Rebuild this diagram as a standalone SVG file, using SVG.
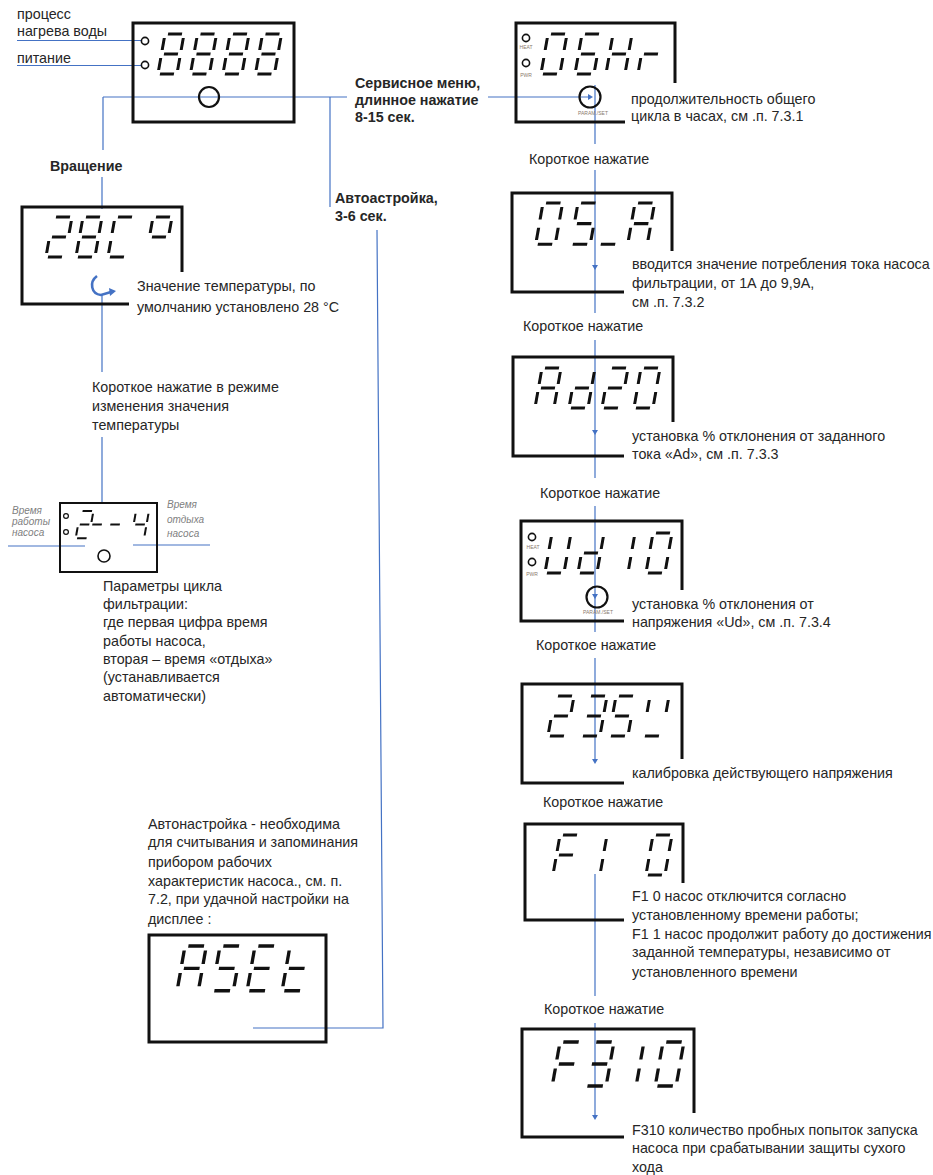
<svg xmlns="http://www.w3.org/2000/svg" width="933" height="1175" viewBox="0 0 933 1175">
<style>
.box{fill:none;stroke:#111;stroke-width:3}
.seg{fill:none;stroke:#111;stroke-width:3}
.led{fill:none;stroke:#111;stroke-width:1.6}
.btn{fill:none;stroke:#111;stroke-width:2.2}
.t{font-family:"Liberation Sans",Arial,sans-serif;font-size:14.3px;fill:#262626}
.b{font-weight:bold}
.it{font-family:"Liberation Sans",Arial,sans-serif;font-style:italic;font-size:10px;fill:#808080}
.tiny{font-family:"Liberation Sans",Arial,sans-serif;font-size:5px;fill:#8a7a6e}
.con{fill:none;stroke:#4472C4;stroke-width:1.2}
.ah{fill:#4472C4}
</style>
<defs>
<path id="sa" d="M3,0H17"/>
<path id="sb" d="M19,4V16"/>
<path id="sc" d="M19,24V36"/>
<path id="sd" d="M2,40H16"/>
<path id="se" d="M0,24V36"/>
<path id="sf" d="M0,4V16"/>
<path id="sg" d="M2.5,20H16.5"/>
<g id="g8"><use href="#sa"/><use href="#sb"/><use href="#sc"/><use href="#sd"/><use href="#se"/><use href="#sf"/><use href="#sg"/></g>
<g id="g0"><use href="#sa"/><use href="#sb"/><use href="#sc"/><use href="#sd"/><use href="#se"/><use href="#sf"/></g>
<g id="g6"><use href="#sa"/><use href="#sc"/><use href="#sd"/><use href="#se"/><use href="#sf"/><use href="#sg"/></g>
<g id="gH"><use href="#sb"/><use href="#sc"/><use href="#se"/><use href="#sf"/><use href="#sg"/></g>
<g id="gr"><use href="#se"/><use href="#sg"/></g>
<g id="g5"><use href="#sa"/><use href="#sc"/><use href="#sd"/><use href="#sf"/><use href="#sg"/></g>
<g id="gA"><use href="#sa"/><use href="#sb"/><use href="#sc"/><use href="#se"/><use href="#sf"/><use href="#sg"/></g>
<g id="gd"><use href="#sb"/><use href="#sc"/><use href="#sd"/><use href="#se"/><use href="#sg"/></g>
<g id="g2"><use href="#sa"/><use href="#sb"/><use href="#sd"/><use href="#se"/><use href="#sg"/></g>
<g id="gU"><use href="#sb"/><use href="#sc"/><use href="#sd"/><use href="#se"/><use href="#sf"/></g>
<g id="g1"><use href="#sb"/><use href="#sc"/></g>
<g id="g3"><use href="#sa"/><use href="#sb"/><use href="#sc"/><use href="#sd"/><use href="#sg"/></g>
<g id="gF"><use href="#sa"/><use href="#se"/><use href="#sf"/><use href="#sg"/></g>
<g id="gt"><use href="#sd"/><use href="#se"/><use href="#sf"/><use href="#sg"/></g>
<g id="gE"><use href="#sa"/><use href="#sd"/><use href="#se"/><use href="#sf"/><use href="#sg"/></g>
<g id="gC"><use href="#sa"/><use href="#sd"/><use href="#se"/><use href="#sf"/></g>
<g id="gdeg"><use href="#sa"/><use href="#sb"/><use href="#sf"/><use href="#sg"/></g>
<g id="g4"><use href="#sb"/><use href="#sc"/><use href="#sf"/><use href="#sg"/></g>
<g id="gm"><use href="#sg"/></g>
<g id="gu"><use href="#sd"/></g>
<g id="gv"><use href="#sb"/><use href="#sd"/><use href="#sf"/></g>
<path id="ahd" d="M-3,-5L3,-5L0,0Z"/>
</defs>

<g id="connectors">
<path class="con" d="M17,40.5H141"/>
<path class="con" d="M17,65.5H141"/>
<path class="con" d="M103,97H347"/>
<path class="con" d="M488,97H589"/>
<use href="#ahd" class="ah" transform="translate(593 97) rotate(-90)"/>
<path class="con" d="M103,97V150"/>
<path class="con" d="M102,177V209"/>
<path d="M97,276C89,282 91,294 101,295L111,292" fill="none" stroke="#4472C4" stroke-width="2.6"/>
<path d="M109,288L116,291L110,296Z" fill="#4472C4"/>
<path class="con" d="M102,295V372"/>
<path class="con" d="M102,437V503"/>
<path class="con" d="M330,97V207"/>
<path class="con" d="M377,230L383,1028H253"/>
<path class="con" d="M595,85V144"/>
<path class="con" d="M595,170V313"/>
<use href="#ahd" class="ah" transform="translate(595 270)"/>
<path class="con" d="M595,340V478"/>
<use href="#ahd" class="ah" transform="translate(595 435)"/>
<path class="con" d="M595,506V632"/>
<use href="#ahd" class="ah" transform="translate(595 599)"/>
<path class="con" d="M595,658V760"/>
<use href="#ahd" class="ah" transform="translate(595 764)"/>
<path class="con" d="M595,874V996"/>
<path class="con" d="M595,1023V1116"/>
<use href="#ahd" class="ah" transform="translate(595 1120)"/>
<path class="con" d="M8,546H85"/>
<path class="con" d="M133,545H210"/>
</g>

<g id="display-main">
<rect class="box" x="133" y="23" width="161" height="99"/>
<circle class="led" cx="145" cy="41" r="3.6"/>
<circle class="led" cx="145" cy="65" r="3.6"/>
<circle class="btn" cx="209" cy="97" r="10"/>
<g class="seg">
<use href="#g8" transform="translate(165 34) skewX(-10)"/>
<use href="#g8" transform="translate(197.5 34) skewX(-10)"/>
<use href="#g8" transform="translate(230 34) skewX(-10)"/>
<use href="#g8" transform="translate(262.5 34) skewX(-10)"/>
</g>
<text class="t" x="17" y="19">процесс</text>
<text class="t" x="17" y="36">нагрева воды</text>
<text class="t" x="17" y="63">питание</text>
</g>

<g id="label-service">
<text class="t b" x="355" y="88">Сервисное меню,</text>
<text class="t b" x="355" y="105">длинное нажатие</text>
<text class="t b" x="355" y="122">8-15 сек.</text>
</g>

<g id="label-rotation">
<text class="t b" x="50" y="171">Вращение</text>
</g>

<g id="label-autotune">
<text class="t b" x="335" y="203">Автоастройка,</text>
<text class="t b" x="335" y="221">3-6 сек.</text>
</g>

<g id="display-28C">
<path class="box" d="M182,272V207H22V304H129"/>
<g class="seg">
<use href="#g2" transform="translate(53 217) skewX(-10)"/>
<use href="#g8" transform="translate(83 217) skewX(-10)"/>
<use href="#gC" transform="translate(115 217) skewX(-10)"/>
<use href="#gdeg" transform="translate(153 217) skewX(-10)"/>
</g>
<text class="t" x="137" y="291">Значение температуры, по</text>
<text class="t" x="137" y="312">умолчанию установлено 28 °C</text>
</g>

<g id="label-short-temp">
<text class="t" x="92" y="392">Короткое нажатие в режиме</text>
<text class="t" x="92" y="411">изменения значения</text>
<text class="t" x="92" y="430">температуры</text>
</g>

<g id="display-2-4">
<rect x="60" y="503" width="97" height="69" fill="none" stroke="#111" stroke-width="2"/>
<circle cx="66" cy="516" r="2.4" fill="none" stroke="#111" stroke-width="1.2"/>
<circle cx="66" cy="532" r="2.4" fill="none" stroke="#111" stroke-width="1.2"/>
<circle cx="104" cy="556" r="6" fill="none" stroke="#111" stroke-width="1.6"/>
<g class="seg">
<use href="#g2" transform="translate(80.5 511) scale(0.68) skewX(-10)"/>
<use href="#gm" transform="translate(93 511) scale(0.68) skewX(-10)"/>
<use href="#gm" transform="translate(111 511) scale(0.68) skewX(-10)"/>
<use href="#g4" transform="translate(136 511) scale(0.68) skewX(-10)"/>
</g>
<text class="it" x="12" y="514">Время</text>
<text class="it" x="12" y="525">работы</text>
<text class="it" x="12" y="536">насоса</text>
<text class="it" x="167" y="508">Время</text>
<text class="it" x="167" y="523">отдыха</text>
<text class="it" x="167" y="537">насоса</text>
<text class="t" x="103" y="591">Параметры цикла</text>
<text class="t" x="103" y="609">фильтрации:</text>
<text class="t" x="103" y="627">где первая цифра время</text>
<text class="t" x="103" y="646">работы насоса,</text>
<text class="t" x="103" y="664">вторая – время «отдыха»</text>
<text class="t" x="103" y="682">(устанавливается</text>
<text class="t" x="103" y="701">автоматически)</text>
</g>

<g id="display-ASEt">
<text class="t" x="148" y="829">Автонастройка - необходима</text>
<text class="t" x="148" y="847">для считывания и запоминания</text>
<text class="t" x="148" y="867">прибором рабочих</text>
<text class="t" x="148" y="886">характеристик насоса., см. п.</text>
<text class="t" x="148" y="904">7.2, при удачной настройки на</text>
<text class="t" x="148" y="924">дисплее :</text>
<rect class="box" x="149" y="935" width="177" height="107"/>
<g class="seg">
<use href="#gA" transform="translate(185 946) scale(1.12) skewX(-10)"/>
<use href="#g5" transform="translate(220 946) scale(1.12) skewX(-10)"/>
<use href="#gE" transform="translate(255 946) scale(1.12) skewX(-10)"/>
<use href="#gt" transform="translate(290 946) scale(1.12) skewX(-10)"/>
</g>
</g>

<g id="display-06Hr">
<path class="box" d="M675,83V23H516V122H625"/>
<circle class="led" cx="526" cy="38" r="3.6"/>
<circle class="led" cx="526" cy="63" r="3.6"/>
<text class="tiny" x="526" y="49" text-anchor="middle">HEAT</text>
<text class="tiny" x="526" y="77" text-anchor="middle">PWR</text>
<circle class="btn" cx="590" cy="97" r="10.5"/>
<text class="tiny" x="593" y="115" text-anchor="middle">PARAM./SET</text>
<g class="seg">
<use href="#g0" transform="translate(548 34) skewX(-10)"/>
<use href="#g6" transform="translate(582 34) skewX(-10)"/>
<use href="#gH" transform="translate(613 34) skewX(-10)"/>
<use href="#gr" transform="translate(645 34) skewX(-10)"/>
</g>
<text class="t" x="631" y="104">продолжительность общего</text>
<text class="t" x="631" y="121">цикла в часах, см .п. 7.3.1</text>
<text class="t" x="529" y="164">Короткое нажатие</text>
</g>

<g id="display-05A">
<path class="box" d="M672,251V193H512V292H624"/>
<g class="seg">
<use href="#g0" transform="translate(543 203) scale(1.03) skewX(-10)"/>
<use href="#g5" transform="translate(578 203) scale(1.03) skewX(-10)"/>
<use href="#gu" transform="translate(606 203) scale(1.03) skewX(-10)"/>
<use href="#gA" transform="translate(635 203) scale(1.03) skewX(-10)"/>
</g>
<text class="t" x="632" y="269">вводится значение потребления тока насоса</text>
<text class="t" x="632" y="288">фильтрации, от 1А до 9,9А,</text>
<text class="t" x="632" y="307">см .п. 7.3.2</text>
<text class="t" x="523" y="331">Короткое нажатие</text>
</g>

<g id="display-Ad20">
<path class="box" d="M673,422V357H513V456H624"/>
<g class="seg">
<use href="#gA" transform="translate(542 368) skewX(-10)"/>
<use href="#gd" transform="translate(576 368) skewX(-10)"/>
<use href="#g2" transform="translate(609 368) skewX(-10)"/>
<use href="#g0" transform="translate(641 368) skewX(-10)"/>
</g>
<text class="t" x="632" y="441">установка % отклонения от заданного</text>
<text class="t" x="632" y="459">тока «Ad», см .п. 7.3.3</text>
<text class="t" x="540" y="498">Короткое нажатие</text>
</g>

<g id="display-Ud10">
<path class="box" d="M682,590V521H521V621H624"/>
<circle class="led" cx="532" cy="537" r="3.6"/>
<circle class="led" cx="532" cy="562" r="3.6"/>
<text class="tiny" x="533" y="549" text-anchor="middle">HEAT</text>
<text class="tiny" x="532" y="576" text-anchor="middle">PWR</text>
<circle class="btn" cx="597" cy="597" r="10.5"/>
<text class="tiny" x="598" y="614" text-anchor="middle">PARAM./SET</text>
<g class="seg">
<use href="#gU" transform="translate(552 533) skewX(-10)"/>
<use href="#gd" transform="translate(585 533) skewX(-10)"/>
<use href="#g1" transform="translate(616 533) skewX(-10)"/>
<use href="#g0" transform="translate(653 533) skewX(-10)"/>
</g>
<text class="t" x="632" y="609">установка % отклонения от</text>
<text class="t" x="632" y="627">напряжения «Ud», см .п. 7.3.4</text>
<text class="t" x="536" y="650">Короткое нажатие</text>
</g>

<g id="display-235">
<path class="box" d="M682,759V684H522V783H624"/>
<g class="seg">
<use href="#g2" transform="translate(555 696) skewX(-10)"/>
<use href="#g3" transform="translate(588 696) skewX(-10)"/>
<use href="#g5" transform="translate(616 696) skewX(-10)"/>
<use href="#gv" transform="translate(650 696) skewX(-10)"/>
</g>
<text class="t" x="632" y="778">калибровка действующего напряжения</text>
<text class="t" x="543" y="807">Короткое нажатие</text>
</g>

<g id="display-F10">
<path class="box" d="M683,883V824H525V920H624"/>
<g class="seg">
<use href="#gF" transform="translate(560 835) skewX(-10)"/>
<use href="#g1" transform="translate(588 835) skewX(-10)"/>
<use href="#g0" transform="translate(653 835) skewX(-10)"/>
</g>
<text class="t" x="632" y="901">F1 0 насос отключится согласно</text>
<text class="t" x="632" y="920">установленному времени работы;</text>
<text class="t" x="632" y="939">F1 1 насос продолжит работу до достижения</text>
<text class="t" x="632" y="957">заданной температуры, независимо от</text>
<text class="t" x="632" y="977">установленного времени</text>
<text class="t" x="544" y="1014">Короткое нажатие</text>
</g>

<g id="display-F310">
<path class="box" d="M694,1113V1029H522V1137H624"/>
<g class="seg">
<use href="#gF" transform="translate(560 1042) scale(1.1) skewX(-10)"/>
<use href="#g3" transform="translate(593 1042) scale(1.1) skewX(-10)"/>
<use href="#g1" transform="translate(623 1042) scale(1.1) skewX(-10)"/>
<use href="#g0" transform="translate(663 1042) scale(1.1) skewX(-10)"/>
</g>
<text class="t" x="632" y="1135">F310 количество пробных попыток запуска</text>
<text class="t" x="632" y="1153">насоса при срабатывании защиты сухого</text>
<text class="t" x="632" y="1172">хода</text>
</g>
</svg>
